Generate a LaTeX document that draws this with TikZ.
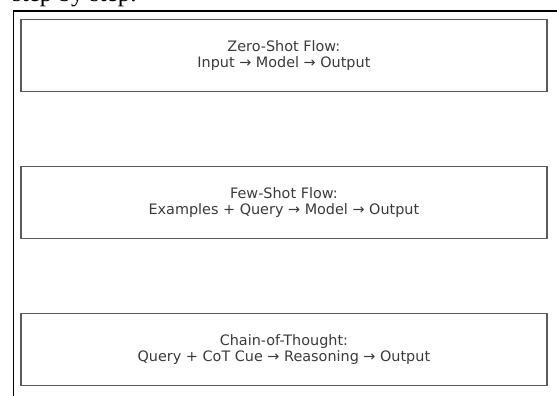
\documentclass[tikz,border=0pt]{standalone}
\usepackage{fontspec}
\usepackage{tikz}
\usetikzlibrary{positioning}
\newfontfamily\flowfont{DejaVu Sans}
\newfontfamily\capfont{Liberation Serif}
\definecolor{flowgray}{HTML}{5A5A5A}
\definecolor{flowtext}{HTML}{3A3A3A}

\begin{document}
\begin{tikzpicture}[
      x=1pt, y=-1pt,
      node distance=73.5pt,
      flow/.style={rectangle, draw=flowgray, line width=1.4pt, minimum width=526pt, minimum height=72pt,
        align=center, text=flowtext, font=\flowfont\fontsize{14.4}{16.5}\selectfont, inner sep=0pt},
      frame/.style={line width=1.3pt, black}
    ]
      \useasboundingbox (0,0) rectangle (557,396);
      \begin{scope}
        \clip (0,0) rectangle (557,396);
        \node[anchor=base west, inner sep=0pt, font=\capfont\fontsize{25}{25}\selectfont] (caption) at (12,1.5) {step by step.};
      \end{scope}
      \draw[frame] (13.5,396) -- (13.5,11) -- (557,11);

      \node[flow] (zero) at (283.9,55.5) {Zero-Shot Flow:\\Input → Model → Output};
      \node[flow] (few) [below=of zero] {Few-Shot Flow:\\Examples + Query → Model → Output};
      \node[flow] (cot) [below=of few] {Chain-of-Thought:\\Query + CoT Cue → Reasoning → Output};
    \end{tikzpicture}
\end{document}
